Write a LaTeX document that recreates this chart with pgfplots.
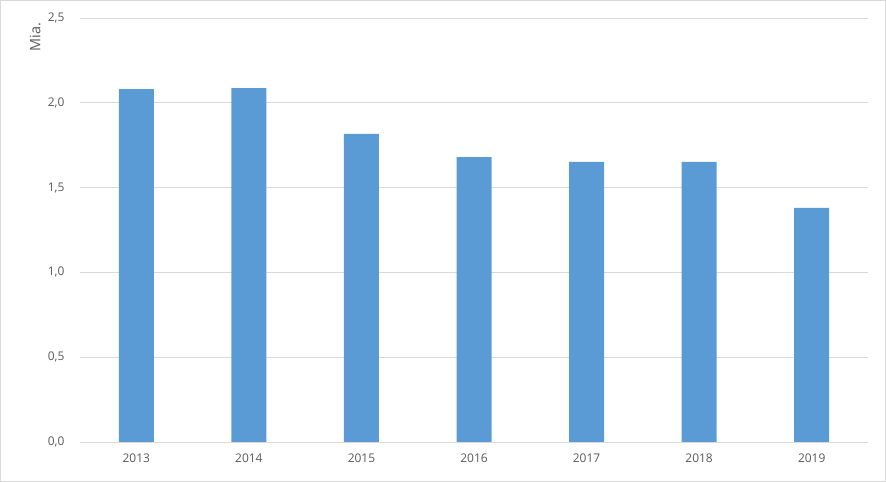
\documentclass[border=0pt]{standalone}
\usepackage{pgfplots}
\pgfplotsset{compat=1.18}
\usepackage{fontspec}
\setmainfont{Open Sans}
\definecolor{barblue}{HTML}{5B9BD5}
\definecolor{gridgray}{HTML}{D9D9D9}
\definecolor{txtgray}{HTML}{595959}
\begin{document}
\begin{tikzpicture}[x=1bp,y=1bp]
\useasboundingbox (-80,-40) rectangle (806,442);
\draw[gridgray, line width=1bp] (-79.5,-39.5) rectangle (805.5,441.5);
\begin{axis}[
  at={(0,0)}, anchor=south west,
  scale only axis, width=788bp, height=424bp,
  xmin=-0.5, xmax=6.5, ymin=0, ymax=2.5,
  ytick={0,0.5,...,2.5},
  xtick={0,...,6},
  xticklabels={2013,2014,2015,2016,2017,2018,2019},
  ymajorgrids, grid style={gridgray, line width=0.75bp},
  axis line style={draw=none},
  major tick length=0pt,
  tick label style={font=\fontsize{12}{14}\selectfont, text=txtgray},
  yticklabel style={xshift=-12bp},
  xticklabel style={yshift=-8bp},
  /pgf/number format/.cd, use comma, fixed, fixed zerofill, precision=1, assume math mode=true,
  /pgfplots/.cd,
  ylabel={Mia.},
  ylabel style={at={(axis description cs:-0.057,0.955)}, anchor=center, font=\fontsize{14.5}{16}\selectfont, text=txtgray},
]
\addplot[ybar, bar width=35bp, fill=barblue, draw=none] coordinates {
(0,2.081) (1,2.087) (2,1.816) (3,1.68) (4,1.651) (5,1.651) (6,1.38)
};
\draw[gridgray, line width=0.75bp] (rel axis cs:0,0) -- (rel axis cs:1,0);
\end{axis}
\end{tikzpicture}
\end{document}
